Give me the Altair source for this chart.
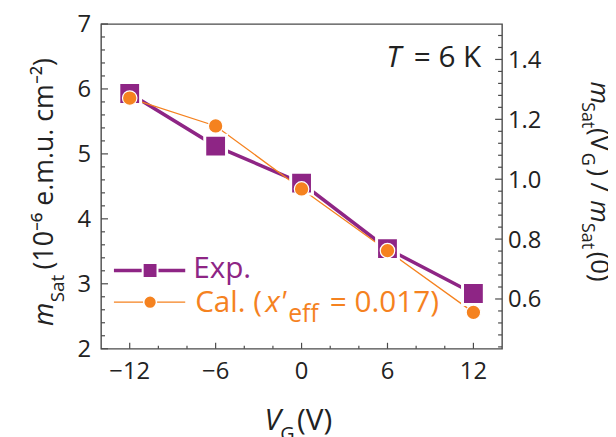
import altair as alt
import pandas as pd

# ---- data ----
vg = [-12, -6, 0, 6, 12]
m_exp = [5.93, 5.12, 4.55, 3.54, 2.85]
m_cal = [5.86, 5.43, 4.46, 3.51, 2.56]
m_sat0 = 4.61  # m_Sat(0) used for the right-hand normalised axis

# ---- axis ticks and tick labels ----
x_major = [-12, -6, 0, 6, 12]
x_labels = ["\u221212", "\u22126", "0", "6", "12"]
x_minor = [-10, -8, -4, -2, 2, 4, 8, 10]
y_major = [2, 3, 4, 5, 6, 7]
y_labels = ["2", "3", "4", "5", "6", "7"]
y_minor = [2.2, 2.4, 2.6, 2.8, 3.2, 3.4, 3.6, 3.8, 4.2, 4.4, 4.6, 4.8,
           5.2, 5.4, 5.6, 5.8, 6.2, 6.4, 6.6, 6.8]
r_major = [0.6, 0.8, 1.0, 1.2, 1.4]
r_labels = ["0.6", "0.8", "1.0", "1.2", "1.4"]
r_minor = [0.44, 0.48, 0.52, 0.56, 0.64, 0.68, 0.72, 0.76, 0.84, 0.88,
           0.92, 0.96, 1.04, 1.08, 1.12, 1.16, 1.24, 1.28, 1.32, 1.36,
           1.44, 1.48]

PURPLE = "#8E2585"
ORANGE = "#F5821F"
FRAME = "#4a4a4a"
TXT = "#222222"
FONT = "Open Sans"
W, H = 405, 328

exp_df = pd.DataFrame({"vg": vg, "m": m_exp})
cal_df = pd.DataFrame({"vg": vg, "m": m_cal})
one = pd.DataFrame({"a": [0]})

xs = alt.Scale(domain=[-14, 14], nice=False, zero=False)
ys = alt.Scale(domain=[2, 7], nice=False, zero=False)
rs = alt.Scale(domain=[2 / m_sat0, 7 / m_sat0], nice=False, zero=False)

X = lambda: alt.X("vg:Q", scale=xs, axis=None)
Y = lambda: alt.Y("m:Q", scale=ys, axis=None)

exp_line = alt.Chart(exp_df).mark_line(color=PURPLE, strokeWidth=3.5).encode(x=X(), y=Y())
cal_line = alt.Chart(cal_df).mark_line(color=ORANGE, strokeWidth=1.3).encode(x=X(), y=Y())
exp_pts = alt.Chart(exp_df).mark_square(
    size=484, color=PURPLE, stroke="white", strokeWidth=3, opacity=1
).encode(x=X(), y=Y())
cal_pts = alt.Chart(cal_df).mark_circle(
    size=214, color=ORANGE, stroke="white", strokeWidth=1.2, opacity=1
).encode(x=X(), y=Y())


def tick_rules(vals, scale, side, length):
    d = pd.DataFrame({"v": vals})
    base = alt.Chart(d).mark_rule(color=FRAME, strokeWidth=1.2)
    if side == "left":
        return base.encode(y=alt.Y("v:Q", scale=scale, axis=None),
                           x=alt.value(0), x2=alt.value(length))
    if side == "right":
        return base.encode(y=alt.Y("v:Q", scale=scale, axis=None),
                           x=alt.value(W), x2=alt.value(W - length))
    return base.encode(x=alt.X("v:Q", scale=scale, axis=None),
                       y=alt.value(H), y2=alt.value(H - length))


def tick_labels(vals, labels, scale, side):
    d = pd.DataFrame({"v": vals, "t": labels})
    if side == "bottom":
        return alt.Chart(d).mark_text(
            font=FONT, fontSize=24, color=TXT, align="center", baseline="alphabetic"
        ).encode(x=alt.X("v:Q", scale=scale, axis=None), y=alt.value(H + 31), text="t:N")
    if side == "left":
        return alt.Chart(d).mark_text(
            font=FONT, fontSize=24, color=TXT, align="right", baseline="alphabetic", dy=8.5
        ).encode(y=alt.Y("v:Q", scale=scale, axis=None), x=alt.value(-10), text="t:N")
    return alt.Chart(d).mark_text(
        font=FONT, fontSize=24, color=TXT, align="left", baseline="alphabetic", dy=8.5
    ).encode(y=alt.Y("v:Q", scale=scale, axis=None), x=alt.value(W + 6), text="t:N")


def txt(s, x, y, size, color=TXT, italic=False, angle=0, align="left"):
    return alt.Chart(one).mark_text(
        text=s, font=FONT, fontSize=size,
        fontStyle="italic" if italic else "normal",
        color=color, align=align, baseline="alphabetic", angle=angle
    ).encode(x=alt.value(x), y=alt.value(y))


# legend (drawn by hand, lower-left inside the frame)
leg_exp_line = alt.Chart(one).mark_rule(color=PURPLE, strokeWidth=3.5).encode(
    x=alt.value(13), x2=alt.value(85), y=alt.value(249))
leg_exp_pt = alt.Chart(one).mark_square(
    size=225, color=PURPLE, stroke="white", strokeWidth=2, opacity=1
).encode(x=alt.value(49.5), y=alt.value(249))
leg_cal_line = alt.Chart(one).mark_rule(color=ORANGE, strokeWidth=1.3).encode(
    x=alt.value(13), x2=alt.value(85), y=alt.value(281))
leg_cal_pt = alt.Chart(one).mark_circle(
    size=165, color=ORANGE, stroke="white", strokeWidth=1.5, opacity=1
).encode(x=alt.value(49.5), y=alt.value(281))

RT = 495  # baseline of the right-hand title
texts = [
    txt("Exp.", 93, 257, 30, PURPLE),
    txt("Cal. (", 95, 290.7, 30, ORANGE),
    txt("x'", 166, 290.7, 30, ORANGE, italic=True),
    txt("eff", 189, 301, 25, ORANGE),
    txt("= 0.017)", 231, 290.7, 30, ORANGE),
    # T = 6 K
    txt("T", 288, 43, 30, italic=True),
    txt("= 6 K", 384, 43, 30, align="right"),
    # x title
    txt("V", 165, 410, 30, italic=True),
    txt("G", 181, 421, 20),
    txt("(V)", 198, 410, 30),
    # left title (rotated)
    txt("m", -49, 305, 27, italic=True, angle=270),
    txt("Sat", -37, 281, 19, angle=270),
    txt("(10\u207b\u2076 e.m.u. cm\u207b\u00b2)", -49, 248, 27, angle=270),
    # right title (rotated)
    txt("m", RT, 58, 26, italic=True, angle=90),
    txt("Sat", RT - 9, 79, 18, angle=90),
    txt("(V", RT, 105, 26, angle=90),
    txt("G", RT - 9, 130, 18, angle=90),
    txt(")", RT, 146, 26, angle=90),
    txt("/", RT, 160, 26, angle=90),
    txt("m", RT, 178, 26, italic=True, angle=90),
    txt("Sat", RT - 9, 201, 18, angle=90),
    txt("(0)", RT, 230, 26, angle=90),
]

left = alt.layer(
    tick_rules(y_major, ys, "left", 7),
    tick_rules(y_minor, ys, "left", 4),
    tick_rules(x_major, xs, "bottom", 6),
    tick_rules(x_minor, xs, "bottom", 3),
    tick_labels(y_major, y_labels, ys, "left"),
    tick_labels(x_major, x_labels, xs, "bottom"),
    exp_line, cal_line, exp_pts, cal_pts,
    leg_exp_line, leg_exp_pt, leg_cal_line, leg_cal_pt,
    *texts,
)

right = alt.layer(
    tick_rules(r_major, rs, "right", 7),
    tick_rules(r_minor, rs, "right", 4),
    tick_labels(r_major, r_labels, rs, "right"),
)

chart = alt.layer(left, right).resolve_scale(y="independent").properties(
    width=W, height=H,
    padding={"left": 94, "top": 14, "right": 107, "bottom": 87},
    autosize=alt.AutoSizeParams(type="none"),
).configure_view(stroke=FRAME, strokeWidth=1.4)

chart.save("out.html", embed_options={"renderer": "svg", "actions": False})
